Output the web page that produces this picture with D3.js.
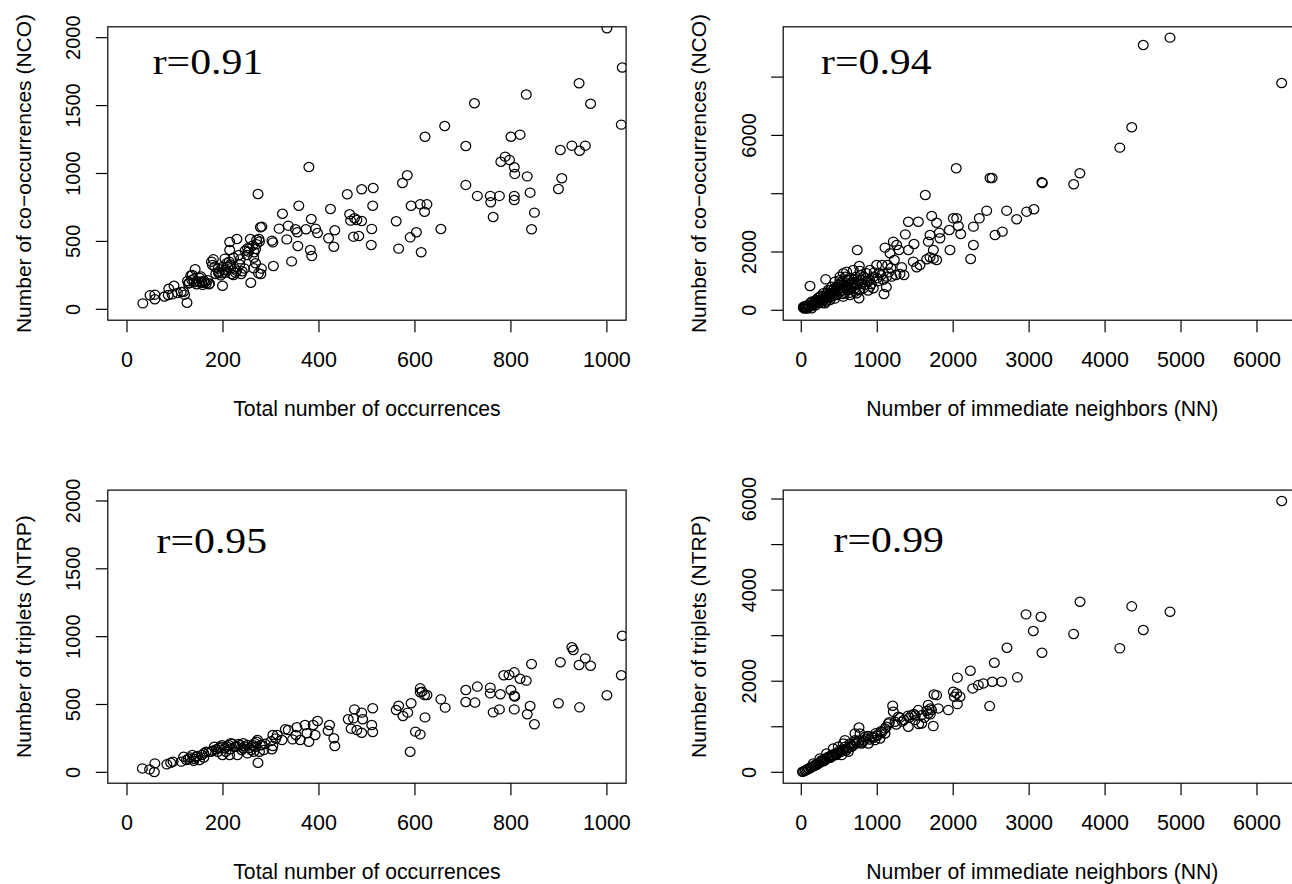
<!DOCTYPE html>
<html>
<head>
<meta charset="utf-8">
<script src="https://cdn.jsdelivr.net/npm/d3@7"></script>
<style>
  html, body { margin: 0; padding: 0; background: #fff; }
  svg { display: block; }
</style>
</head>
<body>
<svg id="chart" width="1292" height="884"></svg>
<script>
// ---------------- DATA ----------------
// Total number of occurrences vs Number of co-occurrences (NCO)
const occVsNco = [[1000,2069],[1032,1780],[942,1664],[966,1514],[832,1581],[724,1517],[1030,1360],[662,1350],[621,1271],[800,1271],[819,1286],[706,1203],[903,1173],[927,1205],[943,1168],[955,1205],[788,1124],[779,1087],[797,1100],[807,1046],[808,997],[379,1048],[584,987],[574,930],[706,916],[834,979],[906,965],[899,886],[840,859],[730,835],[757,835],[776,835],[758,788],[763,680],[807,835],[807,805],[849,712],[843,589],[459,847],[489,884],[513,893],[273,849],[512,763],[592,763],[611,773],[625,773],[620,719],[654,591],[561,648],[566,447],[603,567],[590,530],[613,420],[358,763],[324,704],[424,739],[384,665],[336,616],[317,594],[351,589],[373,589],[355,567],[393,594],[397,562],[333,515],[302,506],[304,493],[356,466],[382,437],[385,393],[343,353],[305,319],[433,582],[420,523],[431,461],[466,653],[464,700],[474,670],[479,658],[489,650],[472,535],[483,540],[510,592],[509,474],[275,518],[278,604],[281,609],[257,518],[270,511],[268,444],[264,380],[268,339],[264,302],[274,265],[279,260],[258,196],[229,518],[214,496],[214,437],[246,432],[233,400],[236,368],[213,351],[204,373],[180,368],[176,351],[183,314],[200,314],[199,265],[191,277],[216,302],[226,270],[238,260],[222,253],[199,174],[165,191],[171,184],[142,295],[136,253],[138,221],[130,196],[145,204],[154,241],[156,196],[126,209],[87,152],[98,174],[86,106],[94,110],[113,128],[120,108],[125,49],[48,103],[58,108],[58,74],[33,44],[251,449],[253,425],[191,265],[133,250],[210,314],[178,326],[150,205],[160,210],[168,215],[140,200],[205,290],[215,330],[225,300],[240,280],[128,190],[135,215],[145,185],[152,230],[158,180],[162,200],[172,190],[185,260],[190,300],[195,250],[205,270],[208,340],[218,260],[222,380],[228,285],[235,330],[245,300],[250,400],[255,450],[262,470],[265,420],[270,480],[276,500],[280,300],[118,130],[105,120],[78,95]];

// Number of immediate neighbors (NN) vs Number of co-occurrences (NCO)
const nnVsNco = [[4855,9354],[4503,9102],[6325,7799],[4351,6278],[4194,5580],[2040,4871],[2485,4540],[2512,4540],[3168,4391],[3174,4368],[3668,4700],[3587,4322],[1633,3956],[115,834],[737,2070],[321,1062],[1089,560],[760,411],[1410,3040],[1541,3040],[1717,3235],[1782,3006],[1370,2605],[1484,2274],[1410,2070],[1102,2150],[1212,2355],[1256,2241],[1286,2070],[1168,1955],[1225,1726],[1137,1555],[1063,1555],[1322,1475],[1352,1212],[1247,1212],[1190,1155],[1124,1155],[1036,1269],[992,1555],[904,1384],[860,1269],[764,1520],[773,1349],[817,1155],[904,812],[948,755],[882,983],[685,1384],[553,1269],[597,1326],[509,1155],[619,1040],[663,926],[707,755],[773,697],[575,812],[465,812],[421,697],[377,582],[333,468],[290,354],[246,297],[202,240],[158,183],[114,126],[70,91],[26,91],[48,148],[136,68],[92,183],[194,354],[246,468],[290,582],[355,697],[443,983],[509,1040],[399,812],[531,926],[597,812],[641,697],[465,525],[377,354],[311,240],[553,468],[641,525],[729,582],[1475,1669],[1519,1475],[1563,1555],[1651,1749],[1695,1818],[1739,1772],[1782,1726],[1739,2070],[1673,2355],[1695,2583],[1826,2469],[1818,2664],[1958,2070],[1949,2755],[2002,3155],[2046,3155],[2068,2892],[2099,2618],[2266,2870],[2266,2240],[2230,1760],[2344,3155],[2441,3418],[2551,2583],[2647,2698],[2704,3418],[2836,3121],[2967,3384],[3063,3464],[40,60],[60,110],[80,60],[100,140],[130,200],[150,160],[170,250],[210,300],[230,260],[260,380],[280,320],[300,420],[320,500],[350,450],[370,520],[400,600],[420,560],[450,650],[480,700],[500,620],[530,760],[560,700],[600,880],[620,760],[650,880],[680,820],[700,950],[720,860],[750,1000],[800,900],[850,1100],[900,1050],[950,1150],[1000,1100],[1050,1200],[180,300],[220,420],[260,500],[300,350],[340,600],[360,420],[380,700],[410,480],[430,750],[460,560],[490,880],[520,650],[540,1000],[570,600],[590,950],[610,700],[630,1100],[660,780],[690,1050],[710,640],[740,900],[780,1200],[820,760],[860,1000],[880,680],[120,250],[90,120],[50,80],[30,120],[140,300],[160,210],[190,170],[240,350],[270,250],[330,300],[390,560],[440,400],[470,760],[510,820],[550,560],[580,1150],[640,600],[670,960],[720,1150],[760,700],[790,1050],[840,880],[920,900],[960,1300],[1010,1000],[1080,1050],[1150,1300],[1180,1450],[1300,1250],[1120,800]];

// Total number of occurrences vs Number of triplets (NTRP)
const occVsNtrp = [[1032,1007],[1030,715],[1000,568],[927,922],[930,902],[903,811],[955,840],[942,791],[966,786],[899,509],[943,479],[843,799],[832,676],[819,690],[807,737],[796,718],[785,715],[800,607],[807,565],[808,558],[807,464],[776,464],[778,575],[757,624],[757,582],[763,442],[730,632],[725,514],[706,607],[706,518],[840,489],[834,428],[849,354],[654,538],[663,477],[621,405],[620,570],[625,570],[611,619],[615,595],[611,590],[601,300],[611,280],[590,152],[592,509],[566,491],[561,460],[575,415],[585,440],[512,472],[510,349],[512,297],[489,440],[489,292],[474,464],[472,398],[467,322],[461,391],[479,312],[491,391],[422,349],[431,251],[433,194],[419,307],[397,378],[388,349],[375,288],[379,226],[392,275],[371,349],[354,332],[352,275],[345,243],[336,312],[330,317],[323,238],[304,275],[302,170],[304,194],[281,201],[273,71],[272,238],[268,189],[264,152],[251,201],[242,177],[233,209],[225,189],[212,201],[214,128],[204,177],[195,189],[199,128],[182,189],[175,152],[165,152],[156,128],[151,91],[144,115],[136,128],[139,86],[124,91],[118,115],[113,79],[96,79],[83,59],[91,71],[58,66],[47,22],[57,2],[32,29],[239,165],[259,165],[276,152],[206,152],[189,152],[230,128],[251,140],[285,165],[313,275],[361,238],[242,214],[216,214],[128,100],[132,110],[147,120],[160,140],[170,150],[178,160],[186,170],[192,180],[198,200],[208,190],[215,170],[220,210],[228,190],[235,200],[245,190],[255,180],[262,200],[266,215],[270,225],[278,200],[288,210],[300,230],[310,250],[160,110],[140,100]];

// Number of immediate neighbors (NN) vs Number of triplets (NTRP)
const nnVsNtrp = [[6326,5957],[4351,3644],[4855,3527],[4503,3125],[4194,2722],[3670,3746],[2959,3468],[3156,3417],[3055,3102],[3586,3036],[3169,2626],[2708,2736],[2542,2406],[2226,2231],[2055,2078],[2845,2085],[2638,1988],[2515,1988],[2397,1952],[2331,1915],[2257,1842],[2480,1454],[1747,1710],[1782,1695],[2002,1768],[2046,1732],[2090,1659],[2015,1659],[2055,1498],[1936,1366],[1804,1403],[1716,1366],[1672,1293],[1738,1015],[1585,1256],[1541,1366],[1453,1256],[1497,1146],[1585,1073],[1409,1000],[1203,1461],[1212,1329],[1278,1220],[1234,1110],[1146,1073],[1102,963],[1102,853],[993,817],[927,780],[760,985],[773,853],[839,780],[707,707],[641,634],[575,560],[509,487],[443,414],[355,341],[267,268],[180,158],[92,85],[15,12],[48,34],[311,304],[223,195],[399,377],[487,560],[553,634],[663,560],[795,634],[883,634],[970,707],[1036,743],[707,853],[575,707],[421,524],[333,414],[245,304],[158,195],[619,450],[531,377],[1671,1478],[1698,1273],[1546,1061],[1329,1112],[1405,1244],[1481,1281],[30,20],[60,50],[120,100],[140,120],[200,160],[260,230],[300,250],[380,320],[460,380],[520,450],[600,520],[680,580],[740,640],[820,700],[900,720],[1000,800],[1060,880],[80,60],[100,80],[130,110],[170,140],[190,170],[230,200],[250,220],[280,240],[320,280],[340,300],[360,320],[400,340],[420,380],[450,400],[480,420],[500,440],[540,480],[560,500],[590,480],[620,540],[650,600],[700,620],[720,680],[760,700],[800,660],[850,740],[880,800],[950,760],[980,860],[1050,900],[1120,1000],[1160,1100],[1250,1050],[1300,1200],[1350,1150],[1420,1200],[1500,1250],[1620,1200],[1650,1350],[1700,1400]];

// Axis ticks and labels
const occTicks = [0, 200, 400, 600, 800, 1000];
const nnTicks = [0, 1000, 2000, 3000, 4000, 5000, 6000];
const ncoTicksLeft = [0, 500, 1000, 1500, 2000];
const ncoTicksRight = [0, 2000, 4000, 6000, 8000];
const ncoTickLabelsRight = ["0", "2000", "", "6000", ""];
const ntrpTicksLeft = [0, 500, 1000, 1500, 2000];
const ntrpTicksRight = [0, 1000, 2000, 3000, 4000, 5000, 6000];
const ntrpTickLabelsRight = ["0", "", "2000", "", "4000", "", "6000"];

const xTitles = ["Total number of occurrences", "Number of immediate neighbors (NN)"];
const yTitles = ["Number of co\u2212occurrences (NCO)", "Number of triplets (NTRP)"];
const rLabels = ["r=0.91", "r=0.94", "r=0.95", "r=0.99"];

// ---------------- LAYOUT ----------------
const svg = d3.select("#chart");
svg.append("rect").attr("width", 1292).attr("height", 884).attr("fill", "#fff");

const SANS = "'Liberation Sans', Arial, Helvetica, sans-serif";
const SERIF = "'Liberation Serif', 'Times New Roman', Times, serif";

const panels = [
  { id: "tl", data: occVsNco, box: [107.8, 626.1, 26.8, 320.2], xd: [-40, 1040], yd: [-80, 2080],
    xt: occTicks, yt: ncoTicksLeft, ytl: ncoTicksLeft.map(String), xTitle: xTitles[0], yTitle: yTitles[0],
    r: rLabels[0], rPos: [152.7, 74] },
  { id: "tr", data: nnVsNco, box: [783.2, 1301.5, 26.8, 320.2], xd: [-238.3, 6586.3], yd: [-340, 9726],
    xt: nnTicks, yt: ncoTicksRight, ytl: ncoTickLabelsRight, xTitle: xTitles[1], yTitle: yTitles[0],
    r: rLabels[1], rPos: [821.1, 74] },
  { id: "bl", data: occVsNtrp, box: [107.8, 626.1, 490.1, 783.2], xd: [-40, 1040], yd: [-80, 2080],
    xt: occTicks, yt: ntrpTicksLeft, ytl: ntrpTicksLeft.map(String), xTitle: xTitles[0], yTitle: yTitles[1],
    r: rLabels[2], rPos: [156.6, 552.7] },
  { id: "br", data: nnVsNtrp, box: [783.2, 1301.5, 490.1, 783.2], xd: [-238.3, 6586.3], yd: [-239, 6196],
    xt: nnTicks, yt: ntrpTicksRight, ytl: ntrpTickLabelsRight, xTitle: xTitles[1], yTitle: yTitles[1],
    r: rLabels[3], rPos: [833.5, 551.7] }
];

const defs = svg.append("defs");

panels.forEach(p => {
  const [x0, x1, y0, y1] = p.box;
  const x = d3.scaleLinear().domain(p.xd).range([x0, x1]);
  const y = d3.scaleLinear().domain(p.yd).range([y1, y0]);
  const g = svg.append("g");

  defs.append("clipPath").attr("id", "clip-" + p.id)
    .append("rect").attr("x", x0).attr("y", y0).attr("width", x1 - x0).attr("height", y1 - y0);

  // points
  g.append("g").attr("clip-path", "url(#clip-" + p.id + ")")
    .selectAll("ellipse").data(p.data).enter().append("ellipse")
    .attr("cx", d => x(d[0])).attr("cy", d => y(d[1]))
    .attr("rx", 4.9).attr("ry", 4.6)
    .attr("fill", "none").attr("stroke", "#000").attr("stroke-width", 1.25);

  // box
  g.append("rect").attr("x", x0).attr("y", y0).attr("width", x1 - x0).attr("height", y1 - y0)
    .attr("fill", "none").attr("stroke", "#000").attr("stroke-width", 1.2);

  // x axis ticks
  const xa = g.append("g");
  xa.selectAll("line").data(p.xt).enter().append("line")
    .attr("x1", d => x(d)).attr("x2", d => x(d)).attr("y1", y1).attr("y2", y1 + 12)
    .attr("stroke", "#000").attr("stroke-width", 1.2);
  xa.selectAll("text").data(p.xt).enter().append("text")
    .attr("x", d => x(d)).attr("y", y1 + 46.5)
    .attr("text-anchor", "middle").attr("font-family", SANS).attr("font-size", 21.5)
    .attr("fill", "#000").text(d => String(d));

  // y axis ticks
  const ya = g.append("g");
  ya.selectAll("line").data(p.yt).enter().append("line")
    .attr("x1", x0 - 12).attr("x2", x0).attr("y1", d => y(d)).attr("y2", d => y(d))
    .attr("stroke", "#000").attr("stroke-width", 1.2);
  ya.selectAll("text").data(p.yt).enter().append("text")
    .attr("transform", d => `translate(${x0 - 27.5},${y(d)}) rotate(-90)`)
    .attr("text-anchor", "middle").attr("font-family", SANS).attr("font-size", 20)
    .attr("fill", "#000").text((d, i) => p.ytl[i]);

  // axis titles
  g.append("text")
    .attr("x", (x0 + x1) / 2).attr("y", y1 + 96.1)
    .attr("text-anchor", "middle").attr("font-family", SANS).attr("font-size", 21.2)
    .attr("fill", "#000").text(p.xTitle);
  g.append("text")
    .attr("transform", `translate(${x0 - 77.3},${(y0 + y1) / 2}) rotate(-90)`)
    .attr("text-anchor", "middle").attr("font-family", SANS).attr("font-size", 21)
    .attr("fill", "#000").text(p.yTitle);

  // correlation label
  g.append("text")
    .attr("transform", `translate(${p.rPos[0]},${p.rPos[1]}) scale(1.16,1)`)
    .attr("font-family", SERIF).attr("font-size", 36)
    .attr("fill", "#000").text(p.r);
});
</script>
</body>
</html>
